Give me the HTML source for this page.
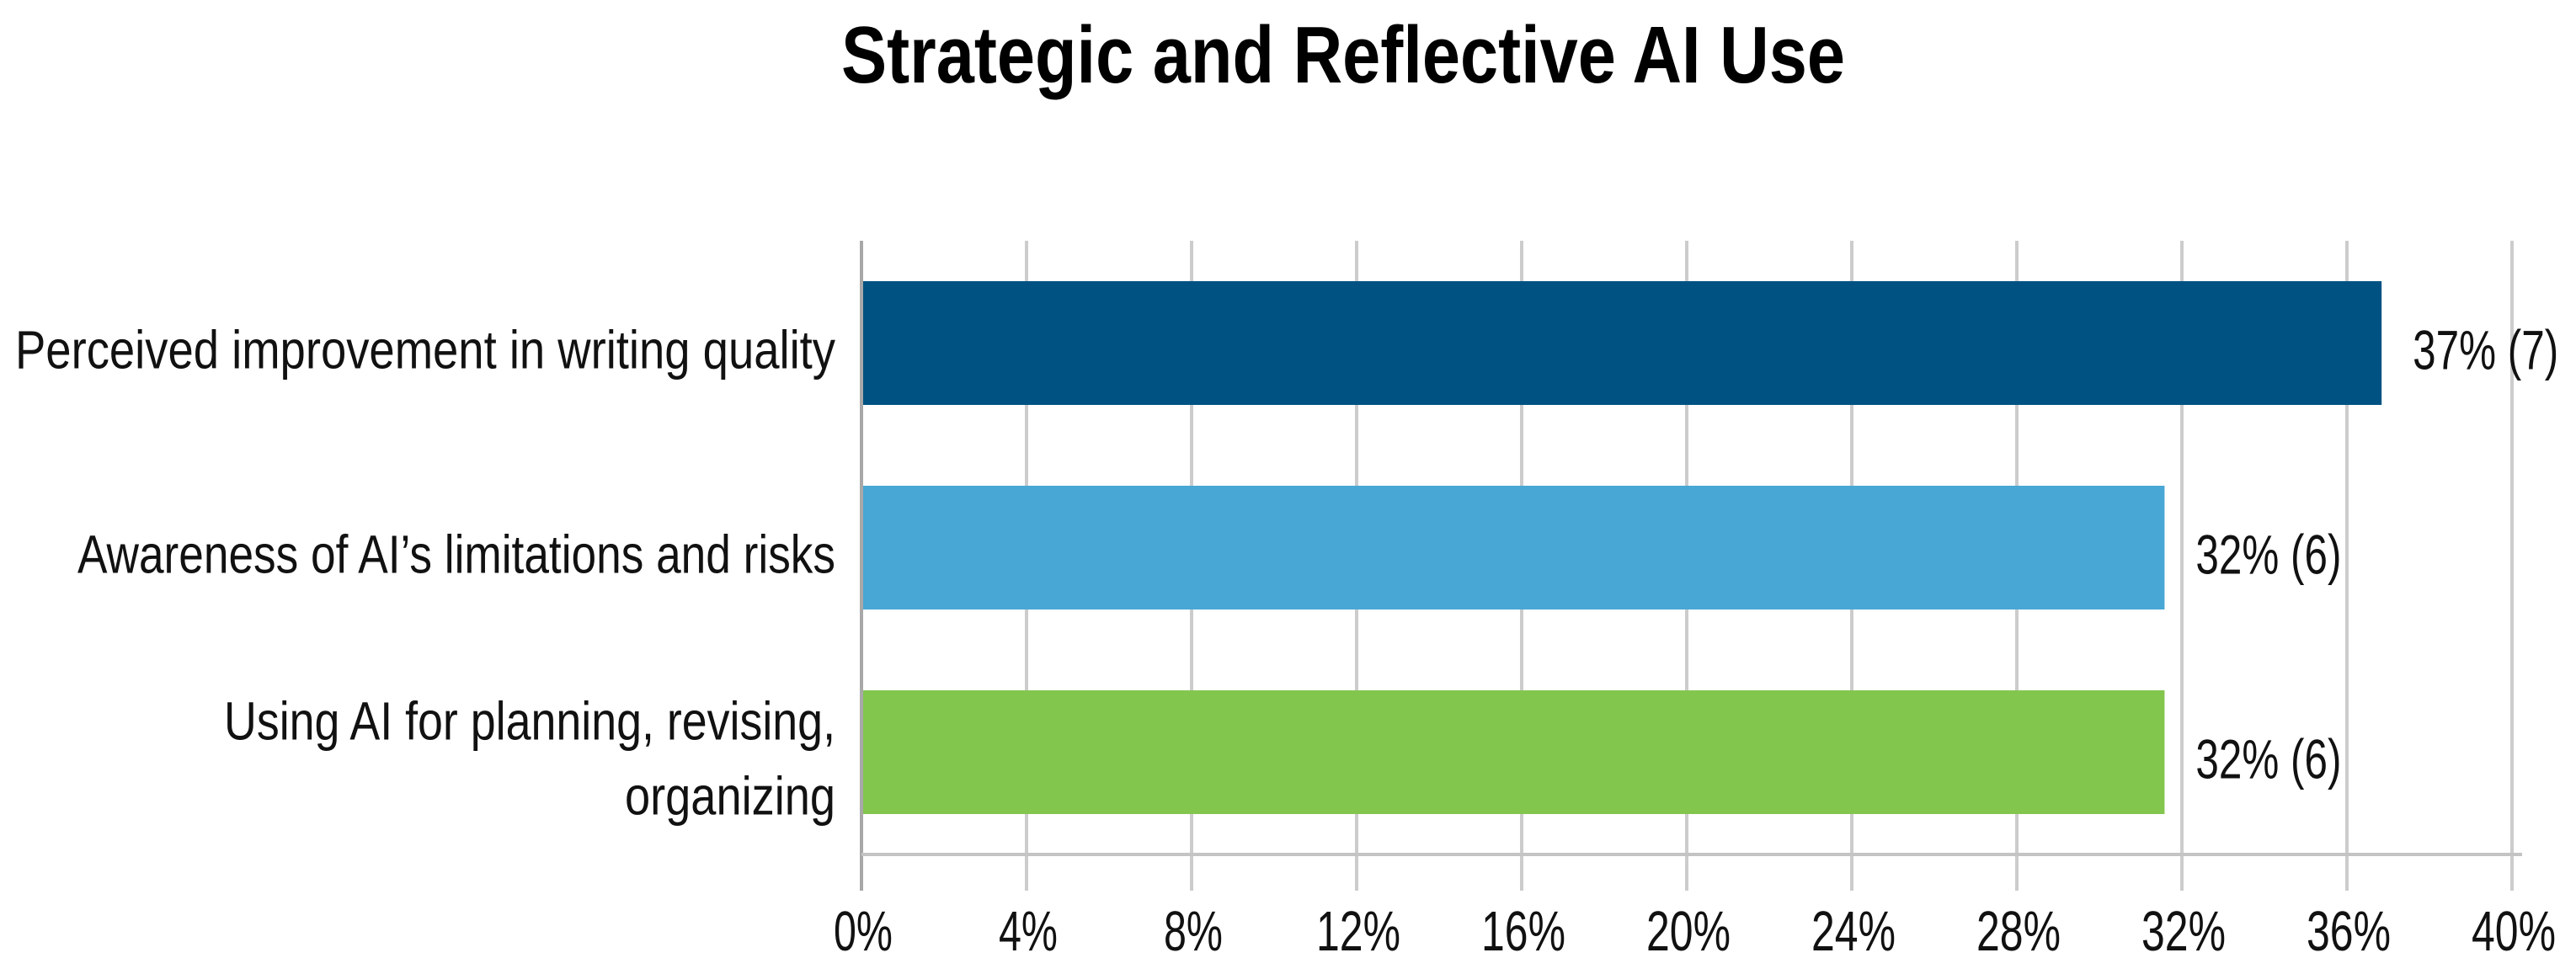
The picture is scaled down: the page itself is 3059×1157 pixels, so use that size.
<!DOCTYPE html>
<html><head><meta charset="utf-8"><style>
html,body{margin:0;padding:0;background:#fff;}
svg{display:block;font-family:"Liberation Sans",sans-serif;}
</style></head><body>
<svg id="chart" width="3059" height="1157" viewBox="0 0 3059 1157">
<text x="1595" y="98" text-anchor="middle" font-size="96" font-weight="bold" textLength="1192" lengthAdjust="spacingAndGlyphs">Strategic and Reflective AI Use</text>
<g id="grid"></g><g id="bars"></g><g id="labels"></g>
</svg>
<script>
const categories = [["Perceived improvement in writing quality"],["Awareness of AI\u2019s limitations and risks"],["Using AI for planning, revising,","organizing"]];
const values = [36.84, 31.58, 31.58];
const valueLabels = ["37% (7)", "32% (6)", "32% (6)"];
const ticks = [0,4,8,12,16,20,24,28,32,36,40];
const colors = ["#005282","#48a7d5","#83c64e"];
const NS="http://www.w3.org/2000/svg";
const x0=1023, x1=2983, plotTop=286, plotBottom=1015;
const xs=v=>x0+(v/40)*(x1-x0);
const band=(plotBottom-plotTop)/3;
const yc=i=>plotTop+band*(i+0.5);
const barH=147;
const labelWidths=[[974],[900],[726,250]];
function mk(t,a){const e=document.createElementNS(NS,t);for(const k in a)e.setAttribute(k,a[k]);return e;}
const g=document.getElementById('grid'),b=document.getElementById('bars'),l=document.getElementById('labels');
ticks.forEach((t,i)=>{
  const gl=mk('line',{x1:xs(t),x2:xs(t),y1:plotTop,y2:1058,stroke:i===0?'#a8a8a8':'#cccccc','stroke-width':4});
  
  
  g.appendChild(gl);
  const s=t+'%';
  const tx=mk('text',{x:xs(t)+2,y:1129,'text-anchor':'middle','font-size':67,fill:'#111',textLength:30*(s.length-1)+40,lengthAdjust:'spacingAndGlyphs'});
  tx.textContent=s;
  
  
  l.appendChild(tx);
});
const ax=mk('line',{x1:x0,x2:x1+12,y1:plotBottom,y2:plotBottom,stroke:'#c4c4c4','stroke-width':4});


g.appendChild(ax);
values.forEach((v,i)=>{
  const r=mk('rect',{x:x0+2,y:yc(i)-barH/2,width:xs(v)-x0-2,height:barH,fill:colors[i]});
  
  
  b.appendChild(r);
  const vt=mk('text',{x:xs(v)+37,y:yc(i)+31,'font-size':66,fill:'#111',textLength:173,lengthAdjust:'spacingAndGlyphs'});
  vt.textContent=valueLabels[i];
  
  
  l.appendChild(vt);
  const lines=categories[i];
  lines.forEach((s,j)=>{
    const dy=lines.length===1?30:(j===0?-15:74);
    const ct=mk('text',{x:992,y:yc(i)+dy,'text-anchor':'end','font-size':64,fill:'#111',textLength:labelWidths[i][j],lengthAdjust:'spacingAndGlyphs'});
    ct.textContent=s;
    
    
    l.appendChild(ct);
  });
});
</script>
</body></html>
